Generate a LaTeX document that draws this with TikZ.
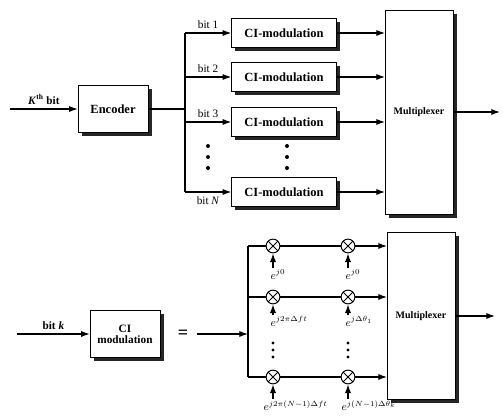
\documentclass[tikz,border=0pt]{standalone}
\usepackage{fontspec}
\setmainfont{Liberation Serif}
\usetikzlibrary{shapes,arrows,arrows.meta,positioning,calc,shadows}

\begin{document}
\begin{tikzpicture}[x=0.8pt,y=-0.8pt,
  blk/.style={draw, rectangle, fill=white, font=\bfseries, align=center,
    drop shadow={shadow xshift=3pt, shadow yshift=-3pt, fill=black!85, opacity=1}},
  cibox/.style={blk, minimum width=84pt, minimum height=23pt},
  muxbox/.style={blk, minimum width=54pt, font=\bfseries\footnotesize},
  mult/.style={draw, thick, circle, fill=white, minimum size=11pt, inner sep=0pt,
    path picture={\draw (path picture bounding box.north west) -- (path picture bounding box.south east)
      (path picture bounding box.north east) -- (path picture bounding box.south west);}},
  phase/.style={font=\small, inner sep=1pt, anchor=north west},
  lbl/.style={font=\small},
  ptr/.style={-{Latex[length=7pt,width=5pt]}, line width=0.9pt},
  wire/.style={line width=0.9pt}
]
\useasboundingbox (0,0) rectangle (503,417);

% upper diagram
\coordinate (kin) at (10,109);
\node[blk, minimum width=56pt, minimum height=38pt] (enc) at (113,109) {Encoder};
\draw[ptr] (kin) -- node[above, font=\small\bfseries] {\textit{K}\textsuperscript{th} bit} (enc.west);

\node[cibox] (ci1) at (284,33) {CI-modulation};
\node[cibox] (ci2) at (284,77) {CI-modulation};
\node[cibox] (ci3) at (284,122) {CI-modulation};
\node[cibox] (ci4) at (284,192) {CI-modulation};
\node[muxbox, minimum height=163pt] (mux) at (419,112) {Multiplexer};
\coordinate (bus) at (185,109);
\coordinate (out) at (500,112);

\draw[wire] (enc.east) -- (bus);
\draw[wire] (ci1.west -| bus) -- (ci4.west -| bus);
\draw[ptr] (ci1.west -| bus) -- node[above, lbl] {bit 1} (ci1.west);
\draw[ptr] (ci2.west -| bus) -- node[above, lbl] {bit 2} (ci2.west);
\draw[ptr] (ci3.west -| bus) -- node[above, lbl] {bit 3} (ci3.west);
\draw[ptr] (ci4.west -| bus) -- node[below, lbl] {bit \textit{N}} (ci4.west);
\foreach \i in {1,2,3,4}
  \draw[ptr] (ci\i.east) -- (ci\i.east -| mux.west);
\draw[ptr] (mux.east) -- (out);
\foreach \yy in {146,157,168} {
  \fill (208,\yy) circle (1.6pt);
  \fill (287,\yy) circle (1.6pt);
}

% lower diagram
\coordinate (kin2) at (17,334);
\node[blk, minimum width=56pt, minimum height=38pt, font=\bfseries\small] (cim) at (125,334) {CI\\[-2pt]modulation};
\draw[ptr] (kin2) -- node[above, font=\small\bfseries] {bit \textit{k}} (cim.west);
\node[font=\Large\bfseries] (eq) at (183,334) {=};
\coordinate (eqr) at (197,334);
\coordinate (bus2) at (248,334);
\draw[ptr] (eqr) -- (bus2);

\node[muxbox, minimum height=134pt] (mux2) at (421,316) {Multiplexer};
\coordinate (out2) at (495,316);
\draw[ptr] (mux2.east) -- (out2);

\node[mult] (m11) at (273,246) {};
\node[mult] (m12) at (348,246) {};
\node[mult] (m21) at (273,297) {};
\node[mult] (m22) at (348,297) {};
\node[mult] (m31) at (273,377) {};
\node[mult] (m32) at (348,377) {};

\draw[wire] (bus2 |- m11) -- (bus2 |- m31);
\foreach \r in {1,2,3} {
  \draw[wire] (bus2 |- m\r1) -- (m\r1) -- (m\r2);
  \draw[ptr] (m\r2.east) -- (m\r2 -| mux2.west);
}

\node[phase] (p11) at (269,268) {$e^{j0}$};
\node[phase] (p12) at (344,268) {$e^{j0}$};
\node[phase] (p21) at (269,315) {$e^{j2\pi\Delta f t}$};
\node[phase] (p22) at (344,315) {$e^{j\Delta\theta_1}$};
\node[phase] (p31) at (262,399) {$e^{j2\pi(N-1)\Delta f t}$};
\node[phase] (p32) at (340,399) {$e^{j(N-1)\Delta\theta_k}$};
\foreach \r in {1,2,3}
  \foreach \c in {1,2}
    \draw[ptr] (p\r\c.north -| m\r\c) -- (m\r\c.south);
\foreach \yy in {343,350,357} {
  \fill (273,\yy) circle (1.3pt);
  \fill (348,\yy) circle (1.3pt);
}
\end{tikzpicture}
\end{document}
